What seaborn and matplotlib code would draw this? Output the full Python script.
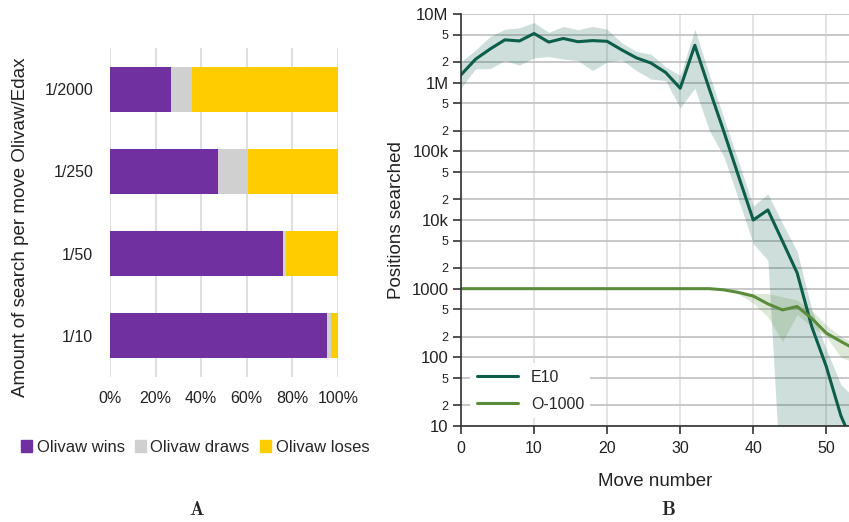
import numpy as np
import pandas as pd
import matplotlib
matplotlib.use("Agg")
import matplotlib.pyplot as plt
import seaborn as sns
from matplotlib.patches import Patch

# --- Panel A : results per amount of search ---
search_levels = ["1/2000", "1/250", "1/50", "1/10"]
wins = [26.6, 47.4, 75.9, 95.2]
draws = [9.5, 13.0, 1.3, 1.6]
loses = [63.9, 39.6, 22.8, 3.2]
pct_ticks = [0, 20, 40, 60, 80, 100]
pct_labels = ["0%", "20%", "40%", "60%", "80%", "100%"]

# --- Panel B : positions searched per move ---
moves = list(range(0, 55, 2))
e10_mid = [1.3e6, 2.2e6, 3.1e6, 4.2e6, 4.05e6, 5.2e6, 3.9e6, 4.4e6, 3.95e6, 4.1e6,
           4.0e6, 3.0e6, 2.3e6, 1.93e6, 1.41e6, 8.3e5, 3.5e6, 8.0e5, 1.9e5, 4.3e4,
           1.0e4, 1.4e4, 4.9e3, 1.7e3, 280, 73, 14, 4.6]
e10_high = [2.0e6, 3.0e6, 4.7e6, 6.0e6, 6.3e6, 7.5e6, 5.4e6, 6.6e6, 5.9e6, 6.6e6,
            6.0e6, 3.8e6, 2.85e6, 2.6e6, 1.7e6, 1.27e6, 6.0e6, 1.3e6, 3.0e5, 7.0e4,
            1.6e4, 2.4e4, 8.9e3, 3.5e3, 500, 130, 40, 25]
e10_low = [8.3e5, 1.6e6, 1.6e6, 2.1e6, 1.8e6, 2.3e6, 2.4e6, 2.2e6, 2.1e6, 1.5e6,
           2.0e6, 2.15e6, 1.5e6, 1.13e6, 1.07e6, 4.3e5, 8.3e5, 2.0e5, 8.3e4, 1.95e4,
           4.5e3, 2.6e3, 0.5, 0.5, 0.5, 0.5, 0.5, 0.5]
o1000_mid = [1000] * 18 + [960, 880, 780, 600, 490, 550, 370, 225, 170, 130]
o1000_high = [1000] * 18 + [975, 920, 850, 850, 760, 680, 480, 295, 200, 160]
o1000_low = [1000] * 18 + [940, 840, 615, 390, 170, 420, 280, 200, 100, 83]

pos_ticks = [10, 20, 50, 100, 200, 500, 1e3, 2e3, 5e3, 1e4, 2e4, 5e4,
             1e5, 2e5, 5e5, 1e6, 2e6, 5e6, 1e7]
pos_labels = ["10", "2", "5", "100", "2", "5", "1000", "2", "5", "10k", "2", "5",
              "100k", "2", "5", "1M", "2", "5", "10M"]

c_wins, c_draws, c_loses = "#7030a0", "#d0d0d0", "#ffcc00"
c_e10, c_o1000 = "#0c5e4a", "#5a8c3c"

sns.set_theme(style="white")
plt.rcParams["font.family"] = ["Liberation Sans", "DejaVu Sans"]
plt.rcParams["mathtext.fontset"] = "cm"

fig = plt.figure(figsize=(8.49, 5.22), dpi=100)
axA = fig.add_axes([110 / 849, 1 - 377 / 522, 228 / 849, 329 / 522])
axB = fig.add_axes([461 / 849, 1 - 426 / 522, 388 / 849, 412 / 522])

# stacked bars: draw cumulative totals from back to front
df_bar = pd.DataFrame({"level": search_levels, "wins": wins,
                       "wd": np.add(wins, draws),
                       "total": np.add(np.add(wins, draws), loses)})
for col, c in [("total", c_loses), ("wd", c_draws), ("wins", c_wins)]:
    sns.barplot(data=df_bar, y="level", x=col, color=c, saturation=1,
                width=0.55, linewidth=0, orient="h", ax=axA)

axA.set_xlim(0, 100)
axA.set_ylim(3.5, -0.5)
axA.set_xticks(pct_ticks)
axA.set_xticklabels(pct_labels)
axA.xaxis.grid(True, color="#d9d9d9", lw=1.2)
axA.set_axisbelow(True)
for s in axA.spines.values():
    s.set_visible(False)
axA.tick_params(axis="both", length=0, labelsize=11.5, colors="#222222")
axA.tick_params(axis="y", pad=12)
axA.tick_params(axis="x", pad=10)
axA.set_xlabel("")
axA.set_ylabel("Amount of search per move Olivaw/Edax", fontsize=13.5,
               color="#222222")
axA.yaxis.set_label_coords(-81 / 228, 150 / 329)

fig.legend(handles=[Patch(color=c_wins, label="Olivaw wins"),
                    Patch(color=c_draws, label="Olivaw draws"),
                    Patch(color=c_loses, label="Olivaw loses")],
           loc="center", bbox_to_anchor=(195 / 849, 1 - 447 / 522), ncol=3,
           frameon=False, handlelength=0.7, handleheight=0.7,
           handletextpad=0.25, columnspacing=0.6, fontsize=12)

# lines + min/max bands
df_line = pd.concat([
    pd.DataFrame({"move": moves, "value": e10_mid, "series": "E10"}),
    pd.DataFrame({"move": moves, "value": o1000_mid, "series": "O-1000"}),
])
axB.fill_between(moves, e10_low, e10_high, color=c_e10, alpha=0.2, lw=0)
axB.fill_between(moves, o1000_low, o1000_high, color=c_o1000, alpha=0.2, lw=0)
sns.lineplot(data=df_line, x="move", y="value", hue="series",
             palette={"E10": c_e10, "O-1000": c_o1000}, estimator=None,
             lw=2.2, ax=axB)

axB.set_yscale("log")
axB.set_ylim(10, 1e7)
axB.set_xlim(0, 53.1)
axB.set_yticks(pos_ticks)
axB.set_yticklabels(pos_labels)
axB.yaxis.set_minor_locator(matplotlib.ticker.NullLocator())
axB.set_xticks([0, 10, 20, 30, 40, 50])
for i, lab in enumerate(axB.get_yticklabels()):
    lab.set_fontsize(12 if i % 3 == 0 else 9)
axB.yaxis.grid(True, color="#c4c4c4", lw=1.3)
axB.xaxis.grid(True, color="#e2e2e2", lw=1.3)
axB.set_axisbelow(True)
axB.spines["top"].set_visible(False)
axB.spines["right"].set_visible(False)
for s in ["left", "bottom"]:
    axB.spines[s].set_color("#333333")
    axB.spines[s].set_linewidth(1.2)
axB.tick_params(axis="both", length=6, width=1.2, color="#333333",
                colors="#222222", pad=3, left=True, bottom=True)
axB.tick_params(axis="x", labelsize=11.5, pad=5)
axB.set_xlabel("Move number", fontsize=13.5, labelpad=12, color="#222222")
axB.set_ylabel("Positions searched", fontsize=13.5, labelpad=5, color="#222222")

leg = axB.legend(loc="lower left", bbox_to_anchor=(0.003, 0.0), fontsize=11.5,
                 handlelength=2.6, frameon=True, facecolor="white",
                 edgecolor="none", framealpha=1, borderpad=0.4,
                 labelspacing=0.75)
leg.set_title(None)

fig.text(197 / 849, 1 - 510 / 522, r"$\mathbf{A}$", ha="center", va="center", fontsize=14)
fig.text(668 / 849, 1 - 510 / 522, r"$\mathbf{B}$", ha="center", va="center", fontsize=14)

fig.savefig("out.png", dpi=100)
